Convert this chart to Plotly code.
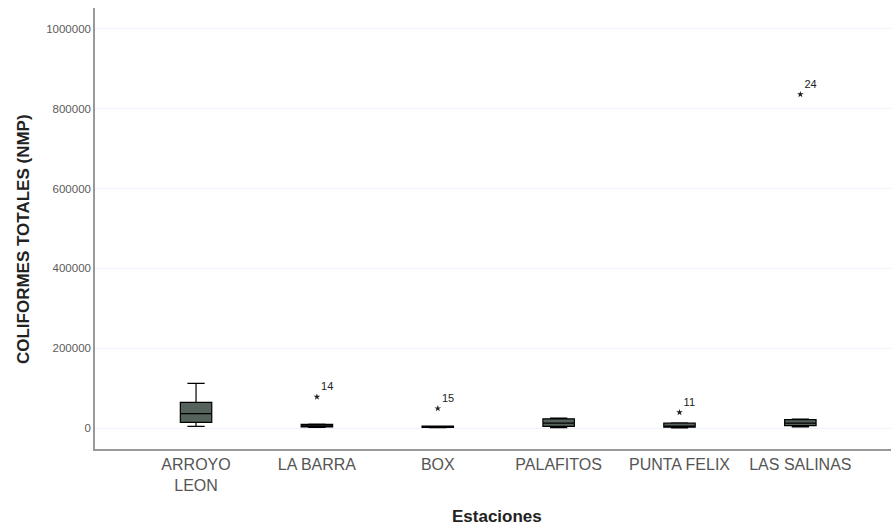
import plotly.graph_objects as go

stations = ["ARROYO<br>LEON", "LA BARRA", "BOX", "PALAFITOS", "PUNTA FELIX", "LAS SALINAS"]
lower = [4000, 1500, 800, 1000, 500, 3000]
q1 = [14000, 3000, 1500, 4000, 2000, 6000]
median = [36000, 5000, 2500, 12000, 4000, 12000]
q3 = [64000, 9000, 4500, 23000, 12000, 21000]
upper = [112000, 10000, 5000, 25000, 13000, 22500]

out_station = [1, 2, 4, 5]
out_value = [78000, 49000, 39000, 836000]
out_label = ["14", "15", "11", "24"]

xpos = list(range(len(stations)))

fig = go.Figure()
fig.add_trace(go.Box(
    x=xpos, q1=q1, median=median, q3=q3, lowerfence=lower, upperfence=upper,
    width=0.26, whiskerwidth=0.55, fillcolor="#55635c",
    line=dict(color="black", width=1.2), boxpoints=False, showlegend=False,
))
fig.add_trace(go.Scatter(
    x=out_station, y=out_value, mode="markers+text", text=out_label,
    textposition="top right", textfont=dict(family="Liberation Sans", size=11, color="#222"),
    marker=dict(symbol="star", size=5, color="#222"), showlegend=False,
))

fig.update_layout(
    width=891, height=531, margin=dict(l=95, r=0, t=8, b=82),
    plot_bgcolor="white", paper_bgcolor="white",
    font=dict(family="Liberation Sans", color="#444"),
    xaxis=dict(
        tickmode="array", tickvals=xpos, ticktext=stations,
        range=[-0.836, 5.75], showgrid=False, zeroline=False,
        showline=True, linecolor="#999", linewidth=1.5,
        tickfont=dict(size=16, color="#555"), ticks="",
    ),
    yaxis=dict(
        range=[-52600, 1052600], tickvals=[0, 200000, 400000, 600000, 800000, 1000000],
        tickformat="d", showgrid=True, gridcolor="#eef2fb", gridwidth=1, zeroline=False,
        showline=True, linecolor="#999", linewidth=1.5,
        tickfont=dict(size=11.5, color="#5a5a5a"), ticks="",
    ),
    annotations=[
        dict(text="<b>COLIFORMES TOTALES (NMP)</b>", xref="paper", yref="paper",
             x=-0.0905, y=0.476, xanchor="center", yanchor="middle", textangle=-90,
             showarrow=False, font=dict(size=17, color="#222")),
        dict(text="<b>Estaciones</b>", xref="paper", yref="paper",
             x=0.505, y=-0.154, xanchor="center", yanchor="middle",
             showarrow=False, font=dict(size=17, color="#222")),
    ],
)
fig.write_html("out.html", post_script="document.body.style.margin='0';",
               config={"displayModeBar": False})
